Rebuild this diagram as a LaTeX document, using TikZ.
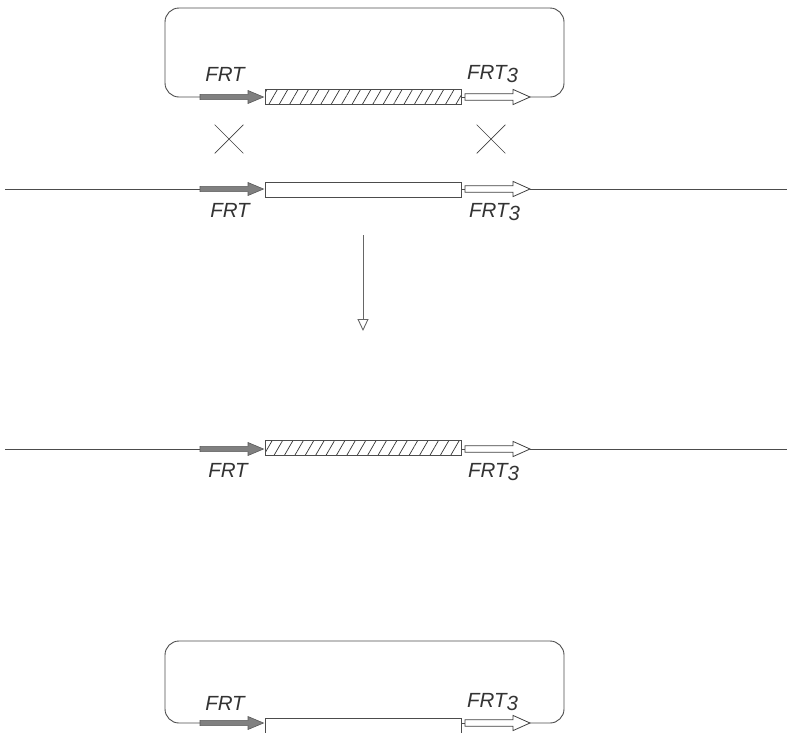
\documentclass[tikz,border=0pt]{standalone}
\usepackage{fontspec}
\setmainfont{Liberation Sans}
\usetikzlibrary{arrows.meta,patterns.meta,shapes.misc}
\tikzset{
  dna/.style={draw=black!70, line width=0.9pt},
  cassbox/.style={draw=black!70, line width=0.9pt, minimum width=196pt, minimum height=15pt, inner sep=0pt, fill=white},
  hatched/.style={pattern={Lines[angle=60,distance=9pt,line width=0.7pt]}, pattern color=black!80},
  frtfill/.style={fill=black!50, draw=black!65, line width=0.6pt},
  frt3fill/.style={fill=white, draw=black!75, line width=0.8pt},
  lbl/.style={font=\fontsize{20.5}{24}\selectfont\itshape, text=black!80, inner sep=0pt},
  xmark/.style={cross out, draw=black!75, line width=0.7pt, minimum size=28pt, inner sep=0pt},
}
% #1 y of the DNA line, #2 prefix, #3 box style, #4 y of box centre
\newcommand\cassette[4]{%
  \node[cassbox,#3] (#2box) at (363.5,#4) {};
  \draw[frtfill] (200,#1-2.6) -- (248,#1-2.6) -- (248,#1-6.5) -- (263.5,#1) -- (248,#1+6.5) -- (248,#1+2.6) -- (200,#1+2.6) -- cycle;
  \coordinate (#2a) at (200,#1);
  \coordinate (#2b) at (465,#1);
  \coordinate (#2c) at (530,#1);
  \draw[frt3fill] (465,#1-3.3) -- (513,#1-3.3) -- (513,#1-7.6) -- (530,#1) -- (513,#1+7.6) -- (513,#1+3.3) -- (465,#1+3.3) -- cycle;
  \draw[dna] (#2box.east |- #2b) -- (#2b);
}
\begin{document}
\begin{tikzpicture}[x=1pt,y=-1pt]
\useasboundingbox (0,0) rectangle (787,732);
% top plasmid
\cassette{97}{p}{hatched}{96.5}
\draw[dna, rounded corners=14pt] (pa) -- (165,97) -- (165,8) -- (564,8) -- (564,97) -- (pc);
\node[lbl] (pl1) at (225,74) {FRT};
\node[lbl, anchor=west] (pl2) at (467,74) {FRT\raisebox{-3pt}{3}};
% crosses
\node[xmark] (x1) at (229,139) {};
\node[xmark] (x2) at (491,139) {};
% chromosome
\cassette{189}{c}{}{189.5}
\coordinate (cL) at (5,189);
\coordinate (cR) at (787,189);
\draw[dna] (cL) -- (ca);
\draw[dna] (cc) -- (cR);
\node[lbl] (cl1) at (230,210) {FRT};
\node[lbl, anchor=west] (cl2) at (469,212) {FRT\raisebox{-3pt}{3}};
% reaction arrow
\coordinate (r1) at (363,235);
\coordinate (r2) at (363,331);
\draw[draw=black!60, line width=0.9pt, -{Triangle[open,length=12pt,width=11pt]}] (r1) -- (r2);
% product
\cassette{449}{r}{hatched}{448}
\coordinate (rL) at (5,449);
\coordinate (rR) at (787,449);
\draw[dna] (rL) -- (ra);
\draw[dna] (rc) -- (rR);
\node[lbl] (rl1) at (228,470) {FRT};
\node[lbl, anchor=west] (rl2) at (468,472) {FRT\raisebox{-3pt}{3}};
% excised plasmid
\cassette{723}{e}{minimum height=20pt}{728}
\draw[dna, rounded corners=14pt] (ea) -- (165,723) -- (165,641) -- (564,641) -- (564,723) -- (ec);
\node[lbl] (el1) at (225,703) {FRT};
\node[lbl, anchor=west] (el2) at (467,702) {FRT\raisebox{-3pt}{3}};
\end{tikzpicture}
\end{document}
